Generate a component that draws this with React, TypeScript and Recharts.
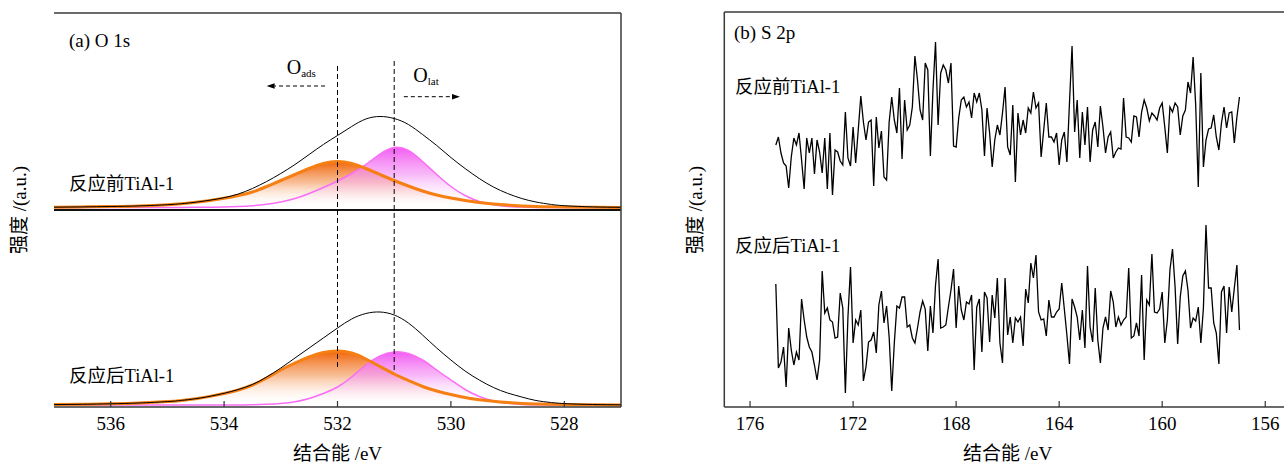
import React from 'react';
import { ComposedChart, LineChart, Line, Area, XAxis, YAxis, ReferenceLine } from 'recharts';

const FONT = "'Liberation Serif', 'Times New Roman', 'Noto Sans CJK SC', serif";

// ---- (a) O 1s : binding energy grid and fitted components (a.u.) ----
const o1sEnergy = [537, 536.5, 536, 535.5, 535, 534.75, 534.5, 534.25, 534, 533.75, 533.5, 533.25, 533, 532.75, 532.5, 532.25, 532, 531.75, 531.5, 531.25, 531, 530.75, 530.5, 530.25, 530, 529.75, 529.5, 529.25, 529, 528.75, 528.5, 528.25, 528, 527.5, 527];

// 反应前 (before)
const beforeTotal = [0.3, 0.6, 1.0, 1.6, 2.8, 3.8, 5.3, 7.3, 9.8, 13.5, 19, 26, 34, 43, 53, 63, 72, 81, 88.5, 91, 89, 83, 73, 62, 50, 39, 29, 20.5, 14, 9, 5.5, 3.2, 1.8, 0.6, 0.2];
const beforeOads = [0.3, 0.6, 1.0, 1.6, 2.8, 3.8, 5.2, 7.0, 9.2, 12, 15.5, 21, 27, 33, 39, 44, 46, 44, 39, 33, 27, 21.5, 16.5, 12.5, 9.5, 7, 5, 3.5, 2.4, 1.6, 1.0, 0.7, 0.5, 0.2, 0.1];
const beforeOlat = [0, 0, 0, 0, 0, 0.1, 0.2, 0.3, 0.4, 0.9, 1.8, 3.3, 5.6, 9, 14, 20, 26.5, 34, 43, 53.5, 60, 57, 46, 33, 21, 12, 6, 2.7, 1.1, 0.4, 0.1, 0, 0, 0, 0];

// 反应后 (after)
const afterTotal = [0.4, 0.7, 1.2, 2.0, 3.4, 4.6, 6.3, 8.7, 11.7, 15.5, 20.5, 28, 37, 47, 57, 67, 77, 86, 91.5, 93, 90, 82, 70, 57, 45, 34, 25, 17.5, 12, 8, 4.5, 2.6, 1.4, 0.5, 0.2];
const afterOads = [0.4, 0.7, 1.2, 2.0, 3.4, 4.6, 6.3, 8.6, 11.5, 15, 20, 27, 35, 42, 48, 52.5, 54, 52, 46, 38.5, 31, 24.5, 18.5, 14, 10.5, 7.5, 5.3, 3.7, 2.5, 1.6, 1.0, 0.7, 0.5, 0.2, 0.1];
const afterOlat = [0, 0, 0, 0, 0, 0, 0, 0, 0, 0.1, 0.3, 0.8, 1.6, 3.2, 6.5, 11.5, 18, 28, 40, 49, 53, 51.5, 45, 35, 25, 15.5, 8.5, 4, 1.7, 0.6, 0.2, 0, 0, 0, 0];

const o1sTicks = [536, 534, 532, 530, 528];

// ---- (b) S 2p : 0.1 eV steps from 175.0 to 157.0 eV ----
const s2pEnergy = Array.from({ length: 181 }, (_, i) => Math.round((175 - i * 0.1) * 10) / 10);

const s2pBefore = [
  262, 270, 254, 244, 241, 219, 250, 269, 262, 274,
  247, 218, 269, 254, 269, 233, 267, 255, 234, 269,
  218, 274, 212, 257, 255, 246, 242, 295, 249, 241,
  280, 244, 277, 311, 285, 267, 285, 287, 221, 290,
  259, 276, 230, 227, 285, 310, 287, 274, 319, 248,
  307, 277, 282, 300, 351, 327, 297, 287, 344, 337,
  251, 317, 365, 282, 334, 342, 337, 324, 344, 261,
  260, 289, 307, 310, 300, 305, 289, 314, 305, 314,
  297, 251, 299, 274, 240, 267, 282, 272, 294,
  320, 260, 252, 302, 225, 294, 272, 287, 274, 299, 294,
  315, 299, 304, 250, 277, 304, 270, 270, 265, 274,
  242, 267, 275, 245, 304, 361, 275, 307, 249, 295,
  262, 300, 245, 277, 285, 260, 301, 280, 254, 270,
  275, 249, 255, 259, 258, 309, 270, 269, 265, 291,
  290, 270, 295, 307, 299, 286, 294, 291, 287, 299,
  304, 280, 254, 300, 295, 304, 300, 272, 291, 297,
  325, 314, 350, 302, 220, 334, 240, 267, 278, 279,
  292, 270, 257, 284, 300, 279, 294, 295, 264, 290, 310,
];

const s2pAfter = [
  123, 39, 45, 60, 20, 79, 57, 42, 55, 47,
  108, 87, 70, 60, 55, 42, 27, 47, 136, 94,
  99, 87, 85, 69, 70, 114, 99, 14, 90, 140,
  64, 87, 82, 97, 26, 40, 65, 67, 75, 54,
  102, 116, 84, 101, 70, 16, 64, 101, 99, 110,
  110, 80, 82, 69, 64, 79, 95, 106, 98, 56,
  101, 74, 122, 148, 79, 80, 82, 100, 117, 138,
  79, 121, 97, 87, 105, 103, 112, 37, 100, 108,
  55, 115, 109, 65, 112, 89, 129,
  64, 44, 129,
  72, 90, 64, 89, 85, 90, 61, 118, 104, 144,
  129, 152, 95, 87, 88, 71, 107, 90, 90, 95,
  98, 124, 98, 72, 43, 108, 100, 90, 67, 97,
  59, 141, 80, 65, 119, 67, 44, 79, 90, 77,
  116, 105, 80, 90, 82, 87, 90, 139, 69, 71,
  84, 71, 132, 47, 107, 102, 153, 95, 94, 98,
  115, 64, 87, 137, 158, 120, 63, 110, 131, 136,
  117, 79, 89, 86, 100, 64, 99, 182, 119, 119,
  84, 74, 43, 115, 121, 74, 120, 95, 119, 142, 77,
];

const s2pTicks = [176, 172, 168, 164, 160, 156];

const o1sData = o1sEnergy.map((e, i) => ({
  e,
  bt: beforeTotal[i], ba: beforeOads[i], bl: beforeOlat[i],
  at: afterTotal[i], aa: afterOads[i], al: afterOlat[i],
}));
const s2pData = s2pEnergy.map((e, i) => ({ e, before: s2pBefore[i], after: s2pAfter[i] }));

const ORANGE = '#f57f12';
const MAGENTA = '#f86ef5';
const FRAME = { stroke: '#3a3a3a', strokeWidth: 1.5 };
const TICK = { fontSize: 19, fontFamily: FONT, fill: '#000', style: { fontFamily: FONT } };

// dashed arrow used for the O_ads / O_lat shift markers
const DashArrow = (p: any) => {
  const { x1, y1, x2, y2 } = p;
  const dx = x2 - x1, dy = y2 - y1;
  const len = Math.hypot(dx, dy) || 1;
  const ux = dx / len, uy = dy / len;
  const hl = 8, hw = 2.8;
  const bx = x2 - ux * hl, by = y2 - uy * hl;
  return (
    <g>
      <line x1={x1} y1={y1} x2={bx} y2={by} stroke="#000" strokeWidth={1} strokeDasharray="4 3" />
      <polygon points={`${x2},${y2} ${bx - uy * hw},${by + ux * hw} ${bx + uy * hw},${by - ux * hw}`} fill="#000" />
    </g>
  );
};

const txt = (left: number, top: number, size = 18.5): React.CSSProperties => ({
  position: 'absolute', left, top, fontSize: size, lineHeight: `${size}px`,
  fontFamily: FONT, color: '#000', whiteSpace: 'nowrap', pointerEvents: 'none',
});

const yTitle = (cx: number): React.CSSProperties => ({
  position: 'absolute', left: cx, top: 210, fontSize: 19, lineHeight: '19px',
  fontFamily: FONT, color: '#000', whiteSpace: 'nowrap',
  transform: 'translate(-50%, -50%) rotate(-90deg)',
});

export default function App() {
  return (
    <div style={{ position: 'relative', width: 1284, height: 465, overflow: 'hidden', background: '#fff', fontFamily: FONT }}>
      <style>{'body{margin:0;overflow:hidden}'}</style>

      {/* (a) O 1s */}
      <div style={{ position: 'absolute', left: 0, top: 0 }}>
        <ComposedChart width={640} height={465} data={o1sData} margin={{ top: 8, right: 14, bottom: 0, left: 49 }}>
          <defs>
            <linearGradient id="gOrange" x1="0" y1="0" x2="0" y2="1">
              <stop offset="0%" stopColor="#f06408" stopOpacity={1} />
              <stop offset="45%" stopColor="#f5a066" stopOpacity={0.7} />
              <stop offset="100%" stopColor="#ffffff" stopOpacity={0} />
            </linearGradient>
            <linearGradient id="gMagenta" x1="0" y1="0" x2="0" y2="1">
              <stop offset="0%" stopColor="#f25cf2" stopOpacity={1} />
              <stop offset="45%" stopColor="#f59af5" stopOpacity={0.7} />
              <stop offset="100%" stopColor="#ffffff" stopOpacity={0} />
            </linearGradient>
          </defs>
          <XAxis
            xAxisId="x" dataKey="e" type="number" domain={[527, 537]} reversed
            ticks={o1sTicks} tickSize={-6} tickMargin={15.5} height={58}
            axisLine={FRAME} tickLine={{ stroke: '#333', strokeWidth: 1.2 }} tick={TICK}
            label={{ value: '结合能 /eV', position: 'insideBottom', offset: 5, fontSize: 19, fontFamily: FONT, fill: '#000' }}
          />
          <XAxis xAxisId="xt" orientation="top" dataKey="e" type="number" domain={[527, 537]} reversed
            tick={false} tickLine={false} height={5} axisLine={FRAME} />
          <YAxis yAxisId="top" type="number" domain={[-199.5, 194.5]} width={5}
            tick={false} tickLine={false} axisLine={FRAME} />
          <YAxis yAxisId="bot" type="number" domain={[-2, 392]} hide />
          <YAxis yAxisId="r" orientation="right" type="number" domain={[0, 1]} width={5}
            tick={false} tickLine={false} axisLine={FRAME} />

          {/* 反应前 */}
          <Area xAxisId="x" yAxisId="top" dataKey="ba" type="natural" stroke="none" fill="url(#gOrange)" fillOpacity={1} isAnimationActive={false} />
          <Area xAxisId="x" yAxisId="top" dataKey="bl" type="natural" stroke={MAGENTA} strokeWidth={1.5} fill="url(#gMagenta)" fillOpacity={1} isAnimationActive={false} />
          <Line xAxisId="x" yAxisId="top" dataKey="ba" type="natural" stroke={ORANGE} strokeWidth={3} dot={false} activeDot={false} isAnimationActive={false} />
          <Line xAxisId="x" yAxisId="top" dataKey="bt" type="natural" stroke="#000" strokeWidth={1} dot={false} activeDot={false} isAnimationActive={false} />

          {/* 反应后 */}
          <Area xAxisId="x" yAxisId="bot" dataKey="aa" type="natural" stroke="none" fill="url(#gOrange)" fillOpacity={1} isAnimationActive={false} />
          <Area xAxisId="x" yAxisId="bot" dataKey="al" type="natural" stroke={MAGENTA} strokeWidth={1.5} fill="url(#gMagenta)" fillOpacity={1} isAnimationActive={false} />
          <Line xAxisId="x" yAxisId="bot" dataKey="aa" type="natural" stroke={ORANGE} strokeWidth={3} dot={false} activeDot={false} isAnimationActive={false} />
          <Line xAxisId="x" yAxisId="bot" dataKey="at" type="natural" stroke="#000" strokeWidth={1} dot={false} activeDot={false} isAnimationActive={false} />

          {/* divider between the two spectra */}
          <ReferenceLine xAxisId="x" yAxisId="top" y={-2.5} stroke="#111" strokeWidth={2} />

          {/* peak position markers */}
          <ReferenceLine xAxisId="x" yAxisId="bot" segment={[{ x: 532, y: 339 }, { x: 532, y: 35 }]} stroke="#000" strokeWidth={1} strokeDasharray="5 3" />
          <ReferenceLine xAxisId="x" yAxisId="bot" segment={[{ x: 531, y: 344 }, { x: 531, y: 32 }]} stroke="#000" strokeWidth={1} strokeDasharray="5 3" />
          <ReferenceLine xAxisId="x" yAxisId="top" segment={[{ x: 532.22, y: 121.5 }, { x: 533.25, y: 121.5 }]} shape={DashArrow} />
          <ReferenceLine xAxisId="x" yAxisId="top" segment={[{ x: 530.83, y: 110.8 }, { x: 529.84, y: 110.8 }]} shape={DashArrow} />
        </ComposedChart>
      </div>

      <div style={yTitle(19)}>强度 /(a.u.)</div>
      <div style={txt(69, 31, 19)}>(a) O 1s</div>
      <div style={txt(69, 175)}>反应前TiAl-1</div>
      <div style={txt(69, 367)}>反应后TiAl-1</div>
      <div style={txt(286.7, 56.5, 20)}>O<span style={{ fontSize: 11, verticalAlign: -3 }}>ads</span></div>
      <div style={txt(413.3, 65, 20)}>O<span style={{ fontSize: 11, verticalAlign: -3 }}>lat</span></div>

      {/* (b) S 2p */}
      <div style={{ position: 'absolute', left: 670, top: 0 }}>
        <LineChart width={640} height={465} data={s2pData} margin={{ top: 7, right: 19, bottom: 0, left: 49.3 }}>
          <XAxis
            xAxisId="x" dataKey="e" type="number" domain={[155, 177]} reversed
            ticks={s2pTicks} tickSize={-6} tickMargin={15.5} height={58}
            axisLine={FRAME} tickLine={{ stroke: '#333', strokeWidth: 1.2 }} tick={TICK}
            label={{ value: '结合能 /eV', position: 'insideBottom', offset: 5, fontSize: 19, fontFamily: FONT, fill: '#000' }}
          />
          <XAxis xAxisId="xt" orientation="top" dataKey="e" type="number" domain={[155, 177]} reversed
            tick={false} tickLine={false} height={5} axisLine={FRAME} />
          <YAxis yAxisId="y" type="number" domain={[0, 395]} width={5}
            tick={false} tickLine={false} axisLine={FRAME} />
          <Line xAxisId="x" yAxisId="y" dataKey="before" type="linear" stroke="#000" strokeWidth={1.3} dot={false} activeDot={false} isAnimationActive={false} />
          <Line xAxisId="x" yAxisId="y" dataKey="after" type="linear" stroke="#000" strokeWidth={1.3} dot={false} activeDot={false} isAnimationActive={false} />
        </LineChart>
      </div>

      <div style={yTitle(695)}>强度 /(a.u.)</div>
      <div style={txt(734, 23.4, 19)}>(b) S 2p</div>
      <div style={txt(735, 77.8)}>反应前TiAl-1</div>
      <div style={txt(735, 237)}>反应后TiAl-1</div>
    </div>
  );
}
